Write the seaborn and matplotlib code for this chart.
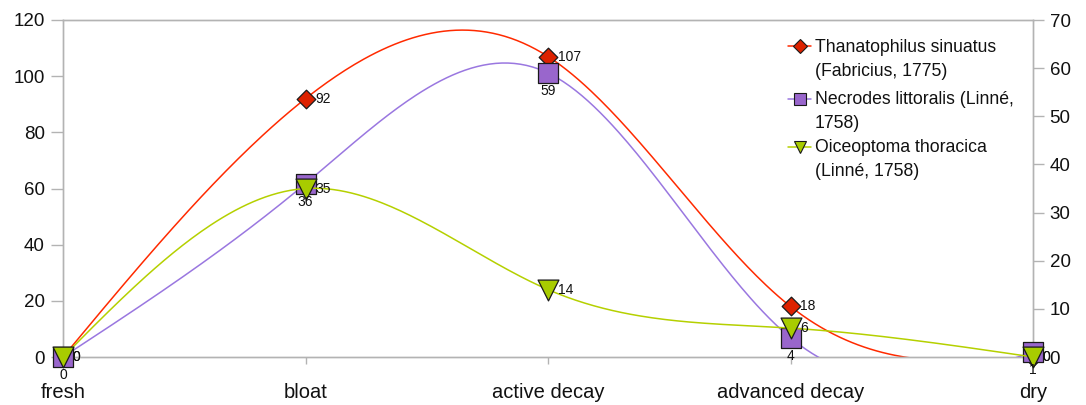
import numpy as np
import matplotlib
matplotlib.use("Agg")
import matplotlib.pyplot as plt
from matplotlib.lines import Line2D
import seaborn as sns

# Decomposition stages and beetle counts
stages = ["fresh", "bloat", "active decay", "advanced decay", "dry"]
thanatophilus = [0, 92, 107, 18, 0]      # left axis
necrodes = [0, 36, 59, 4, 1]             # right axis
oiceoptoma = [0, 35, 14, 6, 0]           # right axis

left_ticks = [0, 20, 40, 60, 80, 100, 120]
right_ticks = [0, 10, 20, 30, 40, 50, 60, 70]

names = [("Thanatophilus sinuatus", "(Fabricius, 1775)"),
         ("Necrodes littoralis (Linné,", "1758)"),
         ("Oiceoptoma thoracica", "(Linné, 1758)")]

sns.set_theme(style="white")
plt.rcParams["font.family"] = ["Liberation Sans", "DejaVu Sans"]

W, H, DPI = 1086, 405, 100
fig = plt.figure(figsize=(W / DPI, H / DPI), dpi=DPI)
x0, x1, y0, y1 = 63, 1033, 20, 357
ax = fig.add_axes([x0 / W, 1 - y1 / H, (x1 - x0) / W, (y1 - y0) / H])
ax2 = ax.twinx()

xs = np.arange(len(stages), dtype=float)
ax.set_xlim(0, len(stages) - 1)
ax.set_ylim(0, 120)
ax2.set_ylim(0, 70)


def natural_spline(xv, yv, n=80):
    """Natural cubic spline through the points."""
    xv = np.asarray(xv, dtype=float)
    yv = np.asarray(yv, dtype=float)
    m = len(xv)
    h = np.diff(xv)
    A = np.zeros((m, m))
    b = np.zeros(m)
    A[0, 0] = A[-1, -1] = 1.0
    for i in range(1, m - 1):
        A[i, i - 1] = h[i - 1]
        A[i, i] = 2 * (h[i - 1] + h[i])
        A[i, i + 1] = h[i]
        b[i] = 6 * ((yv[i + 1] - yv[i]) / h[i] - (yv[i] - yv[i - 1]) / h[i - 1])
    M = np.linalg.solve(A, b)
    px, py = [], []
    for i in range(m - 1):
        t = np.linspace(0, 1, n)
        hi = h[i]
        s = (M[i] * (1 - t) ** 3 * hi ** 2 / 6 + M[i + 1] * t ** 3 * hi ** 2 / 6
             + (yv[i] - M[i] * hi ** 2 / 6) * (1 - t)
             + (yv[i + 1] - M[i + 1] * hi ** 2 / 6) * t)
        start = 0 if i == 0 else 1
        px.append(xv[i] + t[start:] * hi)
        py.append(s[start:])
    return np.concatenate(px), np.concatenate(py)


series = [
    (ax, thanatophilus, "#ff2a00", "D", "#dd2200", 9.5, "right"),
    (ax2, necrodes, "#9a77e0", "s", "#9966cc", 14, "below"),
    (ax2, oiceoptoma, "#b5d000", "v", "#a8cc00", 15, "right"),
]

for k, (a, vals, lc, mk, fc, ms, pos) in enumerate(series):
    sx, sy = natural_spline(xs, vals)
    sns.lineplot(x=sx, y=sy, ax=a, color=lc, linewidth=1.1, sort=False,
                 estimator=None, zorder=2 + k)
    sns.scatterplot(x=xs, y=vals, ax=a, marker=mk, s=ms ** 2, color=fc,
                    edgecolor="#1a1a1a", linewidth=0.9, zorder=3 + k,
                    clip_on=False)
    for xi, v in zip(xs, vals):
        if pos == "right":
            a.annotate(str(v), (xi, v), xytext=(7, 0), textcoords="offset points",
                       ha="left", va="center", fontsize=10, color="#111111",
                       annotation_clip=False, zorder=10)
        else:
            a.annotate(str(v), (xi, v), xytext=(0, -8), textcoords="offset points",
                       ha="center", va="top", fontsize=10, color="#111111",
                       annotation_clip=False, zorder=10)

gray = "#b3b3b3"
for a in (ax, ax2):
    for s in a.spines.values():
        s.set_color(gray)
        s.set_linewidth(1.0)
    a.spines["top"].set_visible(True)
    a.grid(False)

ax.set_xticks(xs)
ax.set_xticklabels(stages, fontsize=14.5, color="#111111")
ax.set_yticks(left_ticks)
ax.set_yticklabels([str(t) for t in left_ticks], fontsize=13.5, color="#111111")
ax2.set_yticks(right_ticks)
ax2.set_yticklabels([str(t) for t in right_ticks], fontsize=13.5, color="#111111")
ax.tick_params(axis="y", direction="out", length=9, width=1, color=gray, pad=4, left=True)
ax.tick_params(axis="x", direction="out", length=5, width=1, color=gray, pad=14, bottom=True)
ax2.tick_params(axis="y", direction="out", length=8, width=1, color=gray, pad=4, right=True)
ax.set_xlabel("")
ax.set_ylabel("")
ax2.set_ylabel("")

# Legend: line + marker key beside two-line species names
keys = [
    ("#ff2a00", "D", "#dd2200", 7.0, 46),
    ("#9a77e0", "s", "#9966cc", 8.5, 99),
    ("#b5d000", "v", "#a8cc00", 8.5, 147),
]
line_y = [(48, 72), (100, 123), (148, 172)]
for (lc, mk, fc, ms, ky), (l1, l2), (ty1, ty2) in zip(keys, names, line_y):
    fy = 1 - ky / H
    fig.add_artist(Line2D([788 / W, 811 / W], [fy, fy], color=lc, lw=1.1,
                          transform=fig.transFigure))
    fig.add_artist(Line2D([799.5 / W], [fy], marker=mk, markersize=ms,
                          markerfacecolor=fc, markeredgecolor="#1a1a1a",
                          markeredgewidth=0.8, linestyle="none",
                          transform=fig.transFigure))
    fig.text(815 / W, 1 - ty1 / H, l1, fontsize=12.7, color="#111111",
             ha="left", va="center")
    fig.text(815 / W, 1 - ty2 / H, l2, fontsize=12.7, color="#111111",
             ha="left", va="center")

fig.savefig("out.png", dpi=DPI)
